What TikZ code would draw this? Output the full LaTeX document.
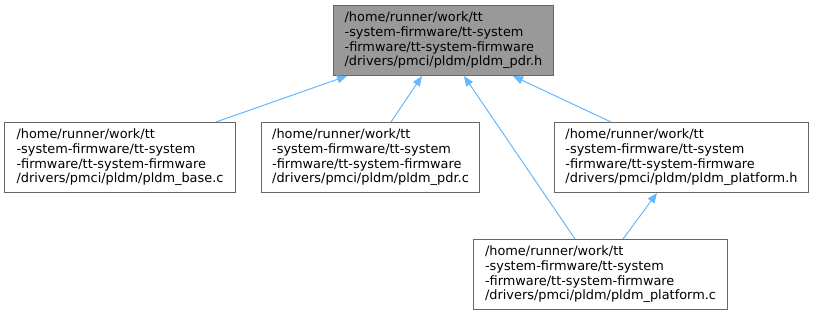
\documentclass[tikz,border=0pt]{standalone}
\usepackage{fontspec}
\setmainfont{DejaVu Sans}
\usepackage{xcolor}
\usetikzlibrary{arrows.meta}
\definecolor{edgeblue}{HTML}{63B8FF}
\definecolor{boxgray}{HTML}{666666}
\definecolor{headgray}{HTML}{999999}

\begin{document}
\begin{tikzpicture}[
    x=1pt, y=1pt,
    every node/.style={
        rectangle,
        draw=boxgray,
        line width=1pt,
        anchor=north west,
        align=left,
        inner xsep=0pt,
        minimum height=70pt,
        font=\fontsize{12.9}{14.7}\selectfont
    },
    header/.style={fill=headgray},
    include/.style={draw=edgeblue, line width=1pt, {Triangle[length=10pt, width=8pt, fill=edgeblue]}-}
]
\useasboundingbox (0,0) rectangle (815,315);

% Included header
\node[header, minimum width=220pt] (pdrh) at (333,310) {
    /home/runner/work/tt\\
    -system-firmware/tt-system\\
    -firmware/tt-system-firmware\\
    /drivers/pmci/pldm/pldm\_pdr.h
};

% Files that include it
\node[minimum width=231pt] (basec) at (4,193) {
    /home/runner/work/tt\\
    -system-firmware/tt-system\\
    -firmware/tt-system-firmware\\
    /drivers/pmci/pldm/pldm\_base.c
};
\node[minimum width=218pt] (pdrc) at (261,193) {
    /home/runner/work/tt\\
    -system-firmware/tt-system\\
    -firmware/tt-system-firmware\\
    /drivers/pmci/pldm/pldm\_pdr.c
};
\node[minimum width=254pt] (platformh) at (554,193) {
    /home/runner/work/tt\\
    -system-firmware/tt-system\\
    -firmware/tt-system-firmware\\
    /drivers/pmci/pldm/pldm\_platform.h
};
\node[minimum width=254pt] (platformc) at (473,76) {
    /home/runner/work/tt\\
    -system-firmware/tt-system\\
    -firmware/tt-system-firmware\\
    /drivers/pmci/pldm/pldm\_platform.c
};

% Include edges
\draw[include] ([xshift=14pt]pdrh.south west) -- ([xshift=-20pt]basec.north east);
\draw[include] ([xshift=89pt]pdrh.south west) -- ([xshift=130pt]pdrc.north west);
\draw[include] ([xshift=131pt]pdrh.south west) -- ([xshift=102pt]platformc.north west);
\draw[include] ([xshift=-41pt]pdrh.south east) -- ([xshift=57pt]platformh.north west);
\draw[include] ([xshift=103pt]platformh.south west) -- ([xshift=150pt]platformc.north west);

\end{tikzpicture}
\end{document}
